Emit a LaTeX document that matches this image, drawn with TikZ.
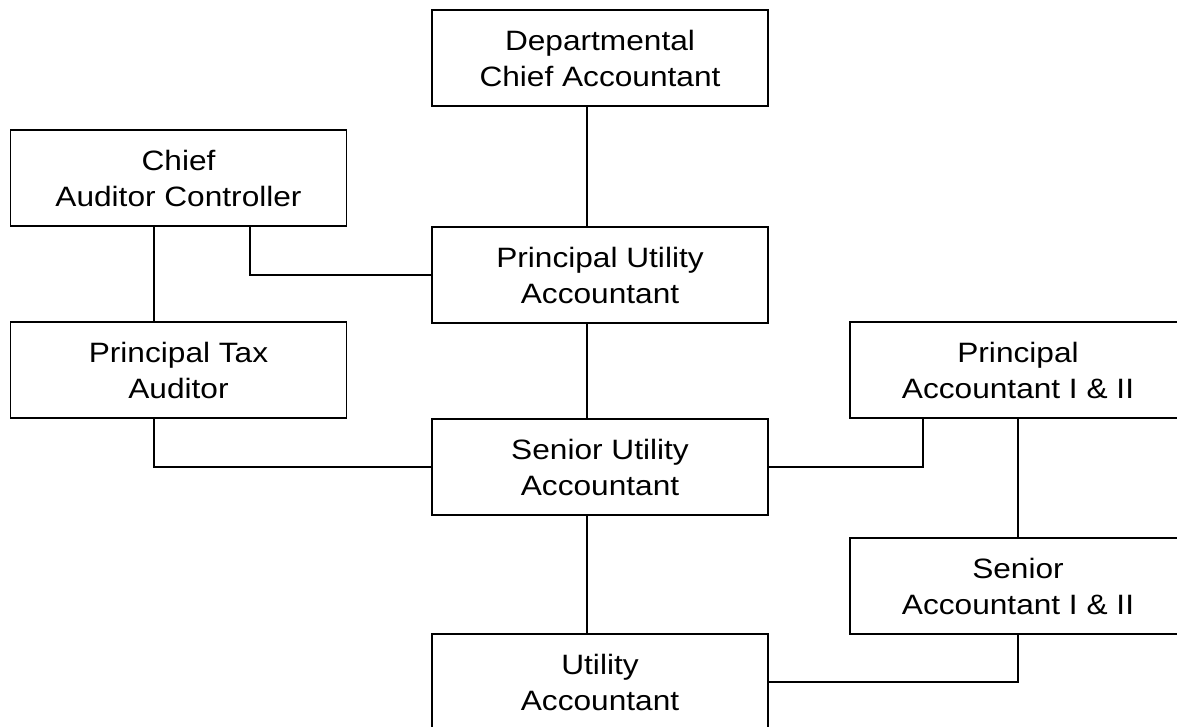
\documentclass[tikz,border=0pt]{standalone}
\usepackage{fontspec}
\setmainfont{Liberation Sans}
\newfontfamily\boxfont{Liberation Sans}[FakeStretch=1.13]
\usepackage{tikz}
\usetikzlibrary{arrows}
\tikzstyle{box} = [rectangle, draw, line width=1.5pt, minimum width=336pt, minimum height=96pt, align=center, font=\boxfont\fontsize{28}{36}\selectfont, inner sep=0pt]
\tikzstyle{link} = [line width=1.1pt]

\begin{document}
\begin{tikzpicture}[x=1pt,y=-1pt]
\useasboundingbox (0,0) rectangle (1177,727);
\node [box] (dca) at (600,58) {Departmental\\Chief Accountant};
\node [box] (cac) at (178.5,178) {Chief\\Auditor Controller};
\node [box] (pua) at (600,275) {Principal Utility\\Accountant};
\node [box] (pta) at (178.5,370) {Principal Tax\\Auditor};
\node [box] (pa) at (1018,370) {Principal\\Accountant I \& II};
\node [box] (sua) at (600,467) {Senior Utility\\Accountant};
\node [box] (sa) at (1018,586) {Senior\\Accountant I \& II};
\node [box] (ua) at (600,682) {Utility\\Accountant};

\draw [link] ([xshift=-13pt]dca.south) to ([xshift=-13pt]pua.north);
\draw [link] ([xshift=-13pt]pua.south) to ([xshift=-13pt]sua.north);
\draw [link] ([xshift=-13pt]sua.south) to ([xshift=-13pt]ua.north);

\draw [link] ([xshift=-24.5pt]cac.south) to ([xshift=-24.5pt]pta.north);
\draw [link] ([xshift=71.5pt]cac.south) |- (pua.west);
\draw [link] ([xshift=-24.5pt]pta.south) |- (sua.west);

\draw [link] (sua.east) -| ([xshift=-95pt]pa.south);
\draw [link] (pa.south) to (sa.north);
\draw [link] (ua.east) -| (sa.south);
\end{tikzpicture}
\end{document}
